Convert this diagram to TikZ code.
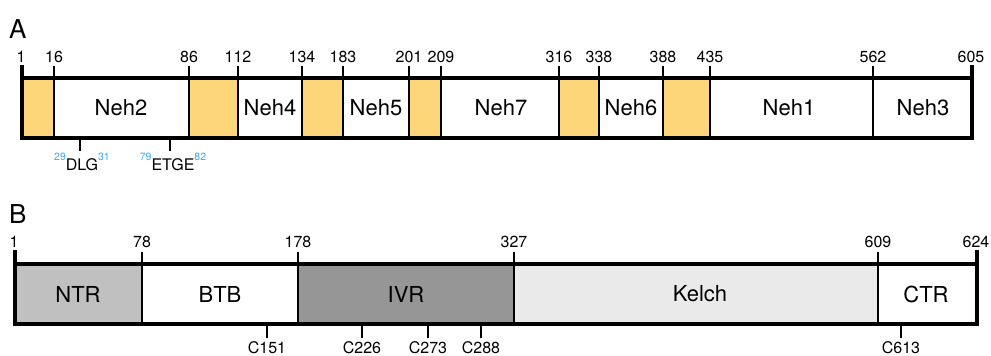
\documentclass[tikz,border=0pt]{standalone}
\usepackage{fontspec}
\setmainfont{TeX Gyre Heros}
\definecolor{nehyellow}{RGB}{254,214,122}
\definecolor{siteblue}{RGB}{60,168,240}
\definecolor{ntrgray}{RGB}{192,192,192}
\definecolor{ivrgray}{RGB}{150,150,150}
\definecolor{kelchgray}{RGB}{234,234,234}
\newcommand{\sitenum}[1]{\raisebox{10pt}{\fontsize{10.5}{10.5}\selectfont\color{siteblue}#1}}

\begin{document}
\begin{tikzpicture}[x=1pt, y=-1pt,
        frame/.style={line width=3.2pt},
        divider/.style={line width=1.6pt},
        poslabel/.style={anchor=base, inner sep=0pt, font=\fontsize{16}{16}\selectfont},
        domlabel/.style={inner sep=0pt, font=\fontsize{22}{22}\selectfont},
        panellabel/.style={anchor=base west, inner sep=0pt, font=\fontsize{26}{26}\selectfont}]
    \useasboundingbox (0, 0) rectangle (991, 356);

    % A: Nrf2 domains
    \node[panellabel] (labA) at (9, 38) {A};
    \foreach \a/\b in {22/54, 189/238, 302/343, 409/441, 559/599, 663/710}
        \fill[nehyellow] (\a, 78) rectangle (\b, 138);
    \foreach \x/\n in {54/16, 189/86, 238/112, 302/134, 343/183, 409/201, 441/209, 559/316, 599/338, 663/388, 710/435, 873/562} {
        \draw[divider] (\x, 138) -- (\x, 66);
        \node[poslabel] (nA\n) at (\x, 62) {\n};
    }
    \node[poslabel] (nA1) at (21, 62) {1};
    \node[poslabel] (nA605) at (971, 62) {605};
    \draw[frame] (22, 78) rectangle (972, 138);
    \draw[frame] (22, 65) -- (22, 78) (972, 65) -- (972, 78);
    \foreach \x/\d in {121/Neh2, 270/Neh4, 376/Neh5, 501/Neh7, 631/Neh6, 789/Neh1, 923/Neh3}
        \node[domlabel] (\d) at (\x, 108) {\d};

    % motifs
    \draw[divider] (80, 138) -- (80, 151);
    \node[poslabel] (dlg) at (82, 170) {\sitenum{29}DLG\sitenum{31}};
    \draw[divider] (170, 138) -- (170, 151);
    \node[poslabel] (etge) at (173, 170) {\sitenum{79}ETGE\sitenum{82}};

    % B: Keap1 domains
    \node[panellabel] (labB) at (9, 223) {B};
    \fill[ntrgray] (15, 264) rectangle (142, 324);
    \fill[ivrgray] (298, 264) rectangle (514, 324);
    \fill[kelchgray] (514, 264) rectangle (878, 324);
    \foreach \x/\n in {142/78, 298/178, 514/327, 878/609} {
        \draw[divider] (\x, 324) -- (\x, 252);
        \node[poslabel] (nB\n) at (\x, 247) {\n};
    }
    \node[poslabel] (nB1) at (14, 247) {1};
    \node[poslabel] (nB624) at (976, 247) {624};
    \draw[frame] (15, 264) rectangle (977, 324);
    \draw[frame] (15, 250) -- (15, 264) (977, 250) -- (977, 264);
    \foreach \x/\d in {78/NTR, 220/BTB, 406/IVR, 700/Kelch, 926/CTR}
        \node[domlabel] (\d) at (\x, 294) {\d};

    % cysteines
    \foreach \x/\c in {267/151, 362/226, 428/273, 481/288, 901/613} {
        \draw[divider] (\x, 324) -- (\x, 338);
        \node[poslabel] (cys\c) at (\x, 353) {C\c};
    }
\end{tikzpicture}
\end{document}
